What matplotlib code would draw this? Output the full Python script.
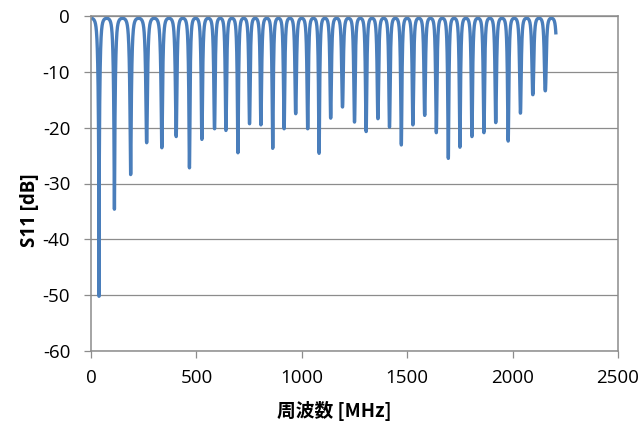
import numpy as np
import matplotlib
matplotlib.use("Agg")
import matplotlib.pyplot as plt

plt.rcParams["axes.unicode_minus"] = False

# dips (MHz, dB)
dip_freq = [38, 111, 188, 264, 336, 404, 467, 526, 586, 640, 697, 752, 806,
            862, 916, 971, 1028, 1082, 1137, 1193, 1250, 1305, 1361, 1416,
            1472, 1527, 1583, 1638, 1695, 1750, 1807, 1864, 1920, 1979, 2037,
            2096, 2155]
dip_depth = [-50.2, -34.6, -28.4, -22.7, -23.6, -21.6, -27.2, -22.1, -20.2,
             -20.5, -24.5, -19.3, -19.5, -23.7, -20.2, -17.5, -20.2, -24.6,
             -18.3, -16.3, -19.0, -20.7, -18.4, -19.9, -23.1, -19.5, -17.8,
             -20.9, -25.5, -23.5, -21.6, -20.9, -19.1, -22.4, -17.4, -14.1,
             -13.4]
f_start, f_end = 8, 2205
x_ticks = [0, 500, 1000, 1500, 2000, 2500]
y_ticks = [0, -10, -20, -30, -40, -50, -60]

FINESSE = 10.0


def trazar_s11(freqs, depths, f0, f1):
    """Curva S11 a partir de las posiciones y profundidades de los minimos."""
    fd = np.array(freqs, float)
    dd = np.array(depths, float)
    # minimo virtual tras el ultimo para la cola final
    fd_ext = np.append(fd, fd[-1] + (fd[-1] - fd[-2]))
    dd_ext = np.append(dd, -20.0)
    f = np.union1d(np.linspace(f0, f1, 6000), fd)
    mids = (fd_ext[1:] + fd_ext[:-1]) / 2
    bordes = np.concatenate([[0.0], mids, [np.inf]])
    s11 = np.zeros_like(f)
    for k in range(len(fd_ext)):
        sel = (f >= bordes[k]) & (f <= bordes[k + 1])
        izq = fd_ext[k] - bordes[k]
        der = (bordes[k + 1] - fd_ext[k]) if np.isfinite(bordes[k + 1]) else izq
        mitad = np.where(f[sel] < fd_ext[k], izq, der)
        s = np.abs(np.sin(np.pi / 2 * (f[sel] - fd_ext[k]) / mitad)) ** 3
        eps = 10 ** (dd_ext[k] / 10)
        g = (FINESSE * s + eps) / (1 + FINESSE * s)
        s11[sel] = 10 * np.log10(g)
    return f, s11


f, s11 = trazar_s11(dip_freq, dip_depth, f_start, f_end)

fig = plt.figure(figsize=(6.42, 4.30), dpi=100)
ax = fig.add_axes([91 / 642, 1 - 351 / 430, 527 / 642, 335 / 430])

ax.plot(f, s11, color="#4A7EBB", linewidth=2.4, solid_joinstyle="round")

ax.set_xlim(0, 2500)
ax.set_ylim(-60, 0)
ax.set_xticks(x_ticks)
ax.set_yticks(y_ticks)
ax.grid(axis="y", color="#8C8C8C", linewidth=0.9)
ax.set_axisbelow(True)
for lado in ax.spines.values():
    lado.set_color("#8C8C8C")
    lado.set_linewidth(1.1)
ax.tick_params(axis="both", direction="out", color="#8C8C8C", length=5,
               width=0.9, labelsize=13.5, labelcolor="#000000")
ax.tick_params(axis="y", pad=10)
ax.tick_params(axis="x", pad=8)
for t in ax.get_xticklabels() + ax.get_yticklabels():
    t.set_family(["Open Sans", "DejaVu Sans"])

fig.text(334 / 642, 1 - 411 / 430, "周波数 [MHz]", ha="center", va="center",
         fontsize=13.5, fontweight="bold", color="#000000",
         family=["Noto Sans CJK JP", "DejaVu Sans"])
fig.text(30 / 642, 1 - 210 / 430, "S11 [dB]", ha="center", va="center",
         rotation=90, fontsize=13.5, fontweight="bold", color="#000000",
         family=["Open Sans", "DejaVu Sans"])

fig.savefig("out.png", dpi=100)
